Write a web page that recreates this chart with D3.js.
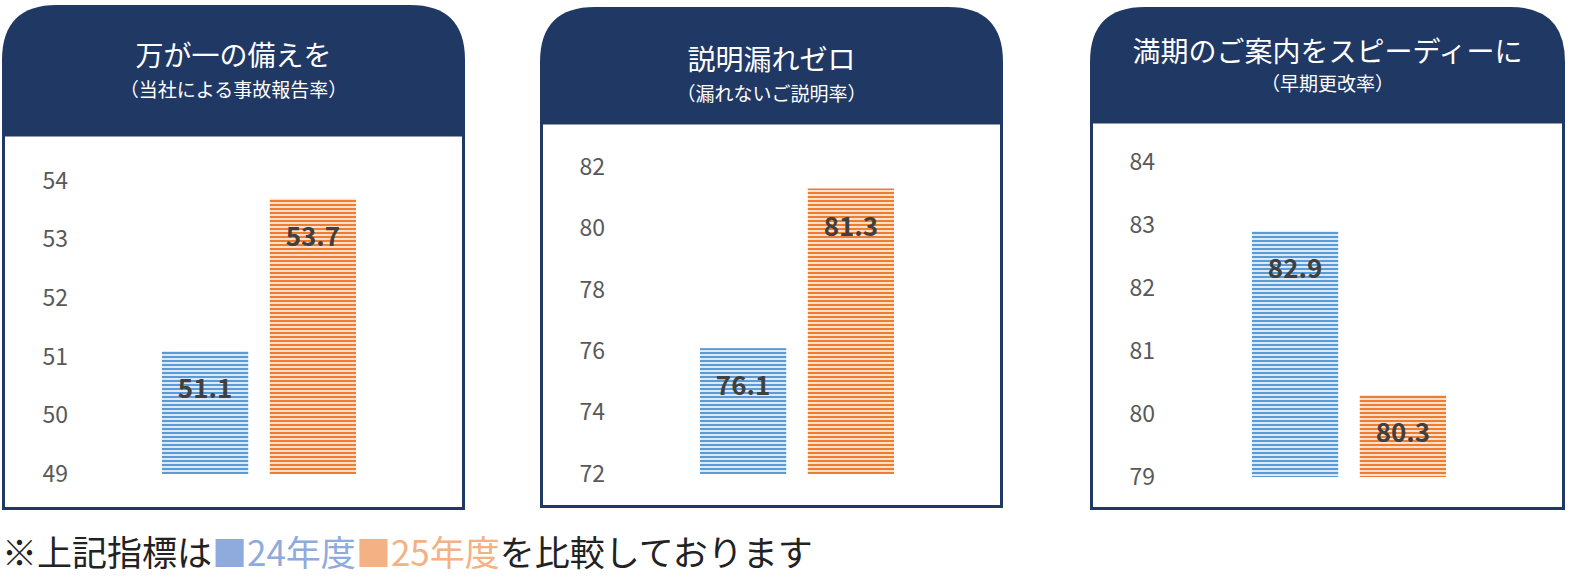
<!DOCTYPE html><html><head><meta charset="utf-8"><script src="https://cdn.jsdelivr.net/npm/d3@7"></script>
<style>body{margin:0;background:#fff}text{font-family:"Noto Sans CJK JP","Noto Sans",sans-serif}</style></head><body>
<svg id="c" width="1582" height="581"></svg>
<script>
const titles=["万が一の備えを","説明漏れゼロ","満期のご案内をスピーディーに"];
const subtitles=["（当社による事故報告率）","（漏れないご説明率）","（早期更改率）"];
const years=["24年度","25年度"];
const values=[[51.1,53.7],[76.1,81.3],[82.9,80.3]];
const domains=[[49,54],[72,82],[79,84]];
const tickStep=[1,2,1];
const colors=["#5b9bd5","#ed7d31"];
const panels=[
 {x:2,w:463,top:5,hb:135,bot:510,tY:58,sY:92,y0:474,y1:181,ax:68,bx:162},
 {x:540,w:463,top:7,hb:123,bot:508,tY:62,sY:96,y0:474,y1:167,ax:605,bx:700},
 {x:1090,w:475,top:7,hb:122,bot:510,tY:54,sY:86,y0:477,y1:162,ax:1155,bx:1252}];
const svg=d3.select("#c"),defs=svg.append("defs");
colors.forEach((c,i)=>{const p=defs.append("pattern").attr("id","p"+i).attr("width",4).attr("height",4).attr("patternUnits","userSpaceOnUse");
p.append("rect").attr("width",4).attr("height",4).attr("fill",i?"#fbe0cf":"#dde9f6");
p.append("rect").attr("width",4).attr("height",2).attr("fill",c);});
const navy="#203864";
panels.forEach((P,k)=>{
 const g=svg.append("g"),r=55;
 g.append("path").attr("d",`M${P.x},${P.hb} V${P.top+r} Q${P.x},${P.top} ${P.x+r},${P.top} H${P.x+P.w-r} Q${P.x+P.w},${P.top} ${P.x+P.w},${P.top+r} V${P.hb} Z`).attr("fill",navy);
 g.append("rect").attr("x",P.x+1.5).attr("y",P.hb).attr("width",P.w-3).attr("height",P.bot-P.hb-1.5).attr("fill","#fff").attr("stroke",navy).attr("stroke-width",3);
 const cx=P.x+P.w/2;
 g.append("text").attr("x",cx).attr("y",P.tY).attr("text-anchor","middle").attr("fill","#fff").attr("font-size",28).attr("dominant-baseline","middle").text(titles[k]);
 g.append("text").attr("x",cx).attr("y",P.sY).attr("text-anchor","middle").attr("fill","#fff").attr("font-size",19).attr("dominant-baseline","middle").text(subtitles[k]);
 const y=d3.scaleLinear().domain(domains[k]).range([P.y0,P.y1]);
 const ticks=d3.range(domains[k][0],domains[k][1]+0.001,tickStep[k]);
 const ax=g.append("g").attr("transform",`translate(${P.ax},0)`).call(d3.axisLeft(y).tickValues(ticks).tickFormat(d3.format("d")).tickSize(0).tickPadding(0));
 ax.select(".domain").remove();
 ax.selectAll("text").attr("font-size",23).attr("fill","#595959").attr("font-family","Open Sans,Noto Sans,sans-serif");
 const x=d3.scaleBand().domain(years).range([P.bx,P.bx+194]).paddingInner(0.2);
 values[k].forEach((v,i)=>{
  const bx=x(years[i]),bw=x.bandwidth(),by=y(v);
  g.append("rect").attr("x",bx).attr("y",by).attr("width",bw).attr("height",y(domains[k][0])-by).attr("fill",`url(#p${i})`);
  g.append("text").attr("x",bx+bw/2).attr("y",by+40).attr("text-anchor","middle").attr("dominant-baseline","middle").attr("font-size",26).attr("font-weight","bold").attr("fill","#404040").attr("font-family","Verdana,DejaVu Sans,sans-serif").text(v.toFixed(1));
 });
});
const ft=svg.append("text").attr("x",2).attr("y",556).attr("font-size",35).attr("dominant-baseline","middle").attr("fill","#222");
ft.append("tspan").text("※上記指標は");
ft.append("tspan").attr("fill","#8faadc").text("■24年度");
ft.append("tspan").attr("fill","#f4b183").text("■25年度");
ft.append("tspan").text("を比較しております");
</script></body></html>
